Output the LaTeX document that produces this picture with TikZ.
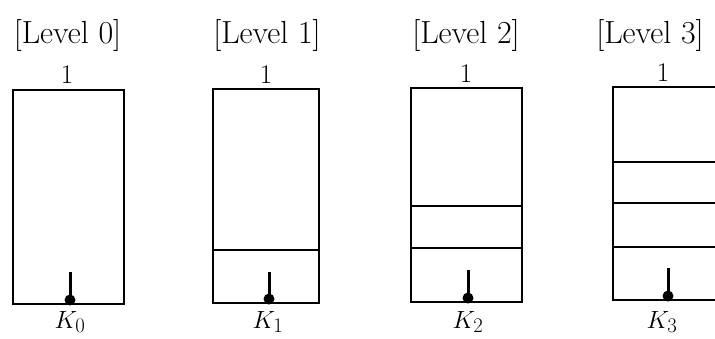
\documentclass[tikz,border=0pt]{standalone}
\begin{document}
\begin{tikzpicture}[x=1pt,y=-1pt,
  box/.style={draw,line width=2.2pt,minimum width=#1,minimum height=214pt,inner sep=0pt,anchor=center},
  divider/.style={line width=2.8pt},
  stem/.style={line width=3pt},
  dotk/.style={circle,fill,inner sep=0pt,minimum size=11pt},
  lvl/.style={font=\fontsize{32}{38}\selectfont,anchor=base,inner sep=0pt},
  one/.style={font=\fontsize{27}{32}\selectfont,anchor=base,inner sep=0pt},
  klab/.style={font=\fontsize{28}{33}\selectfont,anchor=base,inner sep=0pt}]
\clip (0,0) rectangle (715,338);
% boxes
\node[box=111pt] (b0) at (68.5,197) {};
\node[box=106pt] (b1) at (266,196) {};
\node[box=111pt] (b2) at (466.5,195) {};
\node[box=110pt,minimum height=213pt] (b3) at (668,193.5) {};
% labels
\node[lvl] (l0) at (67.5,43) {[Level 0]};
\node[lvl] (l1) at (267,43) {[Level 1]};
\node[lvl] (l2) at (466,43) {[Level 2]};
\node[lvl] (l3) at (650,43) {[Level 3]};
\node[one] (o0) at (67,83) {1};
\node[one] (o1) at (266,83) {1};
\node[one] (o2) at (466,82) {1};
\node[one] (o3) at (663,81) {1};
\node[klab] (k0) at (70,328) {$K_0$};
\node[klab] (k1) at (268,328) {$K_1$};
\node[klab] (k2) at (468,328) {$K_2$};
\node[klab] (k3) at (662,328) {$K_3$};
% dividers
\draw[divider] (b1.west |- 0,250) -- (b1.east |- 0,250);
\draw[divider] (b2.west |- 0,206) -- (b2.east |- 0,206);
\draw[divider] (b2.west |- 0,248) -- (b2.east |- 0,248);
\draw[divider] (b3.west |- 0,162) -- (b3.east |- 0,162);
\draw[divider] (b3.west |- 0,203) -- (b3.east |- 0,203);
\draw[divider] (b3.west |- 0,247) -- (b3.east |- 0,247);
% stems and dots
\node[dotk] (d0) at (70,300) {};
\node[dotk] (d1) at (269,299) {};
\node[dotk] (d2) at (468,298) {};
\node[dotk] (d3) at (668,296) {};
\coordinate (t0) at (70,272);
\coordinate (t1) at (269,272);
\coordinate (t2) at (468,270);
\coordinate (t3) at (668,268);
\draw[stem] (t0) -- (d0.center);
\draw[stem] (t1) -- (d1.center);
\draw[stem] (t2) -- (d2.center);
\draw[stem] (t3) -- (d3.center);
\end{tikzpicture}
\end{document}
